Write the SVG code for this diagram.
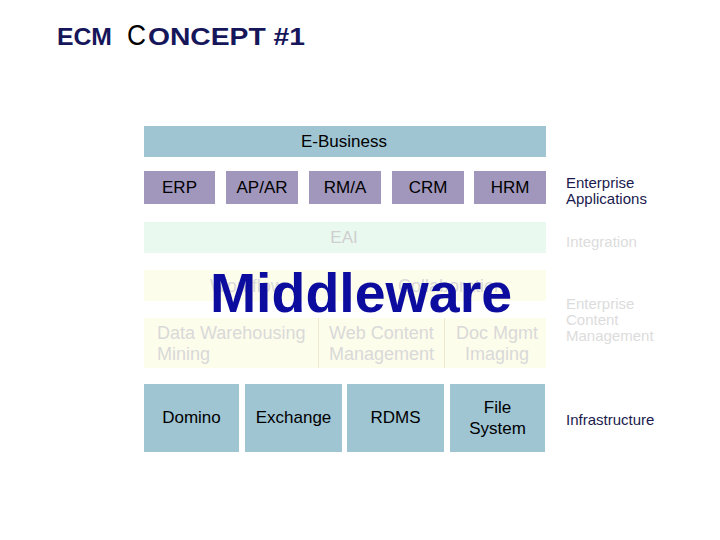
<svg xmlns="http://www.w3.org/2000/svg" width="720" height="540" viewBox="0 0 720 540">
<style>
text{font-family:"Liberation Sans",Arial,sans-serif}
.blue{fill:#9fc5d3}
.purple{fill:#a197bd}
.lbl{font-size:17px;fill:#000;text-anchor:middle}
.fade{font-size:18px;fill:#d9d9d9}
.side{font-size:15px}
.dark{fill:#1a1a4e}
.light{fill:#dcdcdc}
.title{font-weight:bold;fill:#16165a;font-size:23px}
</style>
<rect width="720" height="540" fill="#fff"/>
<g id="title">
<text class="title" x="57" y="45" textLength="55" lengthAdjust="spacingAndGlyphs">ECM</text>
<text x="127" y="45" font-size="30" fill="#000" textLength="19" lengthAdjust="spacingAndGlyphs">C</text>
<text class="title" x="148" y="45" textLength="157" lengthAdjust="spacingAndGlyphs">ONCEPT #1</text>
</g>
<g id="e-business"><rect class="blue" x="144" y="126" width="402" height="31"/><text class="lbl" x="344" y="147">E-Business</text></g>
<g id="erp"><rect class="purple" x="144" y="171" width="71" height="33"/><text class="lbl" x="179.5" y="193">ERP</text></g>
<g id="apar"><rect class="purple" x="226" y="171" width="72" height="33"/><text class="lbl" x="262" y="193">AP/AR</text></g>
<g id="rma"><rect class="purple" x="309" y="171" width="72" height="33"/><text class="lbl" x="345" y="193">RM/A</text></g>
<g id="crm"><rect class="purple" x="392" y="171" width="72" height="33"/><text class="lbl" x="428" y="193">CRM</text></g>
<g id="hrm"><rect class="purple" x="474" y="171" width="72" height="33"/><text class="lbl" x="510" y="193">HRM</text></g>
<g id="eai"><rect x="144" y="222" width="402" height="31" fill="#e9f9ef"/><text x="344" y="243" font-size="17" fill="#cfcfcf" text-anchor="middle">EAI</text></g>
<g id="workflow-collab"><rect x="144" y="270" width="402" height="31" fill="#fdfdeb"/>
<text class="fade" x="210" y="292" font-size="17">Workflow</text>
<text class="fade" x="398" y="292" font-size="17">Collaboration</text></g>
<g id="ecm"><rect x="144" y="318" width="402" height="50" fill="#fdfdeb"/>
<line x1="318.5" y1="318" x2="318.5" y2="368" stroke="#ece8d2"/>
<line x1="444.5" y1="318" x2="444.5" y2="368" stroke="#ece8d2"/>
<text class="fade" x="157" y="339">Data Warehousing</text>
<text class="fade" x="157" y="360">Mining</text>
<text class="fade" x="329" y="339">Web Content</text>
<text class="fade" x="329" y="360">Management</text>
<text class="fade" x="497" y="339" text-anchor="middle">Doc Mgmt</text>
<text class="fade" x="497" y="360" text-anchor="middle">Imaging</text></g>
<g id="middleware"><text x="361" y="312" font-size="55.5" font-weight="bold" fill="#0c0c9e" text-anchor="middle">Middleware</text></g>
<g id="domino"><rect class="blue" x="144" y="384" width="95" height="68"/><text class="lbl" x="191.5" y="423">Domino</text></g>
<g id="exchange"><rect class="blue" x="245" y="384" width="97" height="68"/><text class="lbl" x="293.5" y="423">Exchange</text></g>
<g id="rdms"><rect class="blue" x="347" y="384" width="97" height="68"/><text class="lbl" x="395.5" y="423">RDMS</text></g>
<g id="filesystem"><rect class="blue" x="450" y="384" width="95" height="68"/><text class="lbl" x="497.5" y="413">File</text><text class="lbl" x="497.5" y="434">System</text></g>
<g id="side-labels">
<text class="side dark" x="566" y="188">Enterprise</text>
<text class="side dark" x="566" y="204">Applications</text>
<text class="side light" x="566" y="247">Integration</text>
<text class="side light" x="566" y="309">Enterprise</text>
<text class="side light" x="566" y="325">Content</text>
<text class="side light" x="566" y="341">Management</text>
<text class="side dark" x="566" y="425">Infrastructure</text>
</g>
<g id="connectors"/>
</svg>
